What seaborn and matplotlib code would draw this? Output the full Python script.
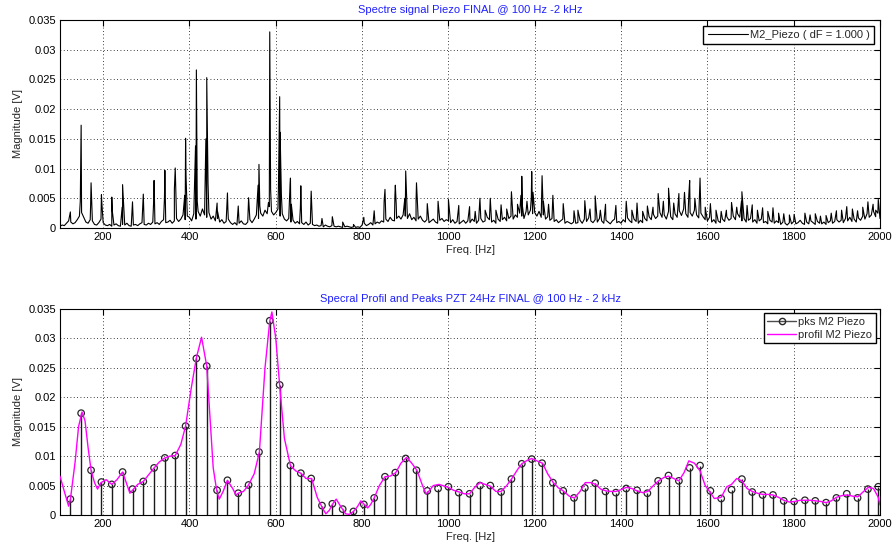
import numpy as np
import pandas as pd
import matplotlib
matplotlib.use("Agg")
import matplotlib.pyplot as plt
import seaborn as sns
from matplotlib.lines import Line2D
from matplotlib.ticker import FuncFormatter, MultipleLocator

# ---------------- data ----------------
# Harmonic peaks (pks M2 Piezo) : frequency [Hz], magnitude [V]
pk_freq = [124, 149, 172, 196, 220, 245, 268, 293, 318, 343, 367, 391, 416, 440,
           464, 488, 513, 537, 561, 586, 609, 634, 658, 682, 707, 731, 755, 780,
           804, 828, 853, 877, 901, 926, 951, 976, 1000, 1024, 1049, 1073, 1097,
           1122, 1146, 1170, 1193, 1217, 1242, 1266, 1291, 1316, 1340, 1364, 1388,
           1412, 1437, 1461, 1486, 1510, 1534, 1559, 1583, 1607, 1632, 1656, 1680,
           1704, 1728, 1752, 1777, 1801, 1826, 1850, 1875, 1899, 1923, 1948, 1972, 1996]
pk_mag = [0.0027, 0.0173, 0.0076, 0.0056, 0.0052, 0.0073, 0.0044, 0.0057, 0.0080,
          0.0097, 0.0101, 0.0151, 0.0266, 0.0253, 0.0042, 0.0059, 0.0037, 0.0051,
          0.0107, 0.0330, 0.0221, 0.0084, 0.0071, 0.0062, 0.0016, 0.0019, 0.0010,
          0.0006, 0.0018, 0.0029, 0.0065, 0.0072, 0.0096, 0.0076, 0.0041, 0.0045,
          0.0048, 0.0038, 0.0036, 0.0050, 0.0050, 0.0039, 0.0061, 0.0087, 0.0095,
          0.0088, 0.0055, 0.0041, 0.0029, 0.0046, 0.0054, 0.0040, 0.0038, 0.0045,
          0.0042, 0.0037, 0.0058, 0.0067, 0.0058, 0.0080, 0.0084, 0.0041, 0.0028,
          0.0043, 0.0061, 0.0039, 0.0034, 0.0034, 0.0024, 0.0023, 0.0025, 0.0024,
          0.0021, 0.0029, 0.0036, 0.0029, 0.0044, 0.0048]

# Spectral profile (profil M2 Piezo)
prof_freq = [100, 110, 120, 124, 135, 143, 151, 158, 165, 172, 180, 187, 195, 207,
             215, 220, 232, 245, 256, 262, 268, 280, 293, 305, 318, 330, 343, 355,
             367, 380, 391, 404, 416, 428, 440, 448, 455, 463, 469, 478, 488, 500,
             508, 513, 525, 536, 550, 562, 575, 586, 591, 600, 609, 620, 634, 646,
             658, 670, 683, 696, 708, 716, 724, 732, 740, 750, 762, 770, 780, 790,
             797, 805, 813, 820, 828, 840, 853, 865, 878, 890, 903, 915, 927, 940,
             948, 952, 965, 978, 1000, 1012, 1025, 1037, 1049, 1062, 1073, 1085,
             1097, 1110, 1122, 1135, 1147, 1160, 1170, 1183, 1193, 1205, 1218, 1230,
             1243, 1255, 1266, 1280, 1292, 1305, 1317, 1330, 1341, 1353, 1365, 1377,
             1388, 1400, 1412, 1425, 1437, 1450, 1462, 1475, 1487, 1500, 1510, 1522,
             1534, 1546, 1557, 1570, 1583, 1595, 1607, 1616, 1632, 1645, 1656, 1668,
             1680, 1692, 1704, 1716, 1728, 1740, 1752, 1765, 1777, 1790, 1802, 1815,
             1827, 1840, 1851, 1863, 1875, 1887, 1899, 1912, 1924, 1937, 1949, 1962,
             1973, 1985, 1996, 2000]
prof_mag = [0.0066, 0.0040, 0.0015, 0.0026, 0.0090, 0.0150, 0.0175, 0.0160, 0.0115,
            0.0076, 0.0055, 0.0044, 0.0055, 0.0060, 0.0055, 0.0052, 0.0060, 0.0073,
            0.0050, 0.0037, 0.0042, 0.0052, 0.0057, 0.0068, 0.0080, 0.0090, 0.0097,
            0.0100, 0.0101, 0.0120, 0.0151, 0.0215, 0.0267, 0.0302, 0.0253, 0.0160,
            0.0080, 0.0042, 0.0027, 0.0040, 0.0059, 0.0045, 0.0034, 0.0037, 0.0040,
            0.0050, 0.0070, 0.0107, 0.0250, 0.0329, 0.0345, 0.0300, 0.0220, 0.0130,
            0.0084, 0.0075, 0.0071, 0.0062, 0.0062, 0.0030, 0.0012, 0.0002, 0.0008,
            0.0019, 0.0027, 0.0015, 0.0002, 0.0001, 0.0006, 0.0015, 0.0024, 0.0018,
            0.0012, 0.0018, 0.0029, 0.0050, 0.0065, 0.0066, 0.0072, 0.0088, 0.0098,
            0.0088, 0.0076, 0.0050, 0.0036, 0.0038, 0.0050, 0.0052, 0.0047, 0.0042,
            0.0039, 0.0036, 0.0036, 0.0048, 0.0055, 0.0052, 0.0049, 0.0040, 0.0040,
            0.0050, 0.0062, 0.0077, 0.0087, 0.0093, 0.0096, 0.0092, 0.0088, 0.0070,
            0.0055, 0.0046, 0.0041, 0.0032, 0.0029, 0.0040, 0.0055, 0.0055, 0.0052,
            0.0044, 0.0041, 0.0040, 0.0040, 0.0043, 0.0047, 0.0045, 0.0041, 0.0038,
            0.0040, 0.0050, 0.0058, 0.0064, 0.0066, 0.0062, 0.0058, 0.0072, 0.0092,
            0.0088, 0.0075, 0.0050, 0.0038, 0.0028, 0.0030, 0.0048, 0.0052, 0.0062,
            0.0058, 0.0045, 0.0040, 0.0037, 0.0035, 0.0035, 0.0034, 0.0030, 0.0025,
            0.0022, 0.0023, 0.0025, 0.0025, 0.0025, 0.0024, 0.0023, 0.0021, 0.0024,
            0.0030, 0.0033, 0.0034, 0.0032, 0.0031, 0.0040, 0.0047, 0.0045, 0.0030,
            0.0017]

# Raw spectrum (M2_Piezo, dF = 1 Hz): noise floor read every 5 Hz from 100 Hz [mV]
floor_mv = [
    0.3, 0.5, 0.4, 0.8, 1.2, 1.0, 0.7, 0.9, 1.4, 2.0, 2.6, 1.8, 1.0, 0.8, 1.4, 1.2, 0.6, 0.5, 0.9, 1.5,
    0.9, 0.5, 0.4, 0.6, 0.3, 0.5, 0.7, 0.4, 0.3, 0.6, 0.5, 0.8, 0.4, 0.3, 0.5, 0.6, 0.4, 0.7, 0.9, 0.6,
    0.5, 0.8, 0.6, 1.0, 0.7, 0.9, 0.6, 1.1, 1.4, 0.9, 1.0, 1.3, 0.8, 1.2, 1.6, 1.1, 1.5, 2.2, 1.4, 2.0,
    1.8, 1.2, 2.4, 1.5, 2.8, 2.0, 3.2, 2.2, 1.8, 2.6, 1.5, 2.0, 1.2, 1.6, 1.0, 1.4, 0.8, 1.1, 1.5, 0.9,
    0.6, 0.9, 0.5, 0.8, 1.2, 0.7, 0.6, 1.0, 1.4, 0.9, 1.5, 2.2, 1.6, 2.5, 2.0, 3.0, 2.4, 3.6, 2.8, 2.2,
    2.6, 3.2, 2.0, 2.4, 1.5, 1.2, 1.6, 1.0, 1.3, 0.8, 1.1, 0.7, 0.9, 0.6, 1.0, 0.5, 0.8, 0.6, 0.4, 0.5,
    0.3, 0.4, 0.2, 0.5, 0.3, 0.2, 0.4, 0.3, 0.2, 0.3, 0.2, 0.1, 0.2, 0.3, 0.2, 0.1, 0.2, 0.1, 0.2, 0.1,
    0.5, 0.8, 0.4, 0.6, 0.9, 0.5, 0.7, 1.0, 0.8, 1.2, 1.0, 1.5, 1.1, 1.8, 1.3, 1.2, 1.6, 2.0, 1.5, 2.2,
    2.0, 1.6, 2.4, 1.4, 1.8, 1.2, 1.5, 2.0, 1.3, 1.0, 1.4, 0.9, 1.2, 1.5, 1.0, 0.8, 1.3, 1.6, 1.1, 1.4,
    1.2, 0.9, 1.4, 0.8, 1.1, 0.7, 1.0, 1.3, 0.8, 1.2, 0.9, 1.5, 1.1, 0.8, 1.3, 1.6, 1.0, 1.2, 1.8, 1.4,
    1.0, 1.3, 0.8, 1.5, 1.1, 1.4, 1.8, 1.2, 1.6, 2.0, 1.5, 2.2, 1.8, 2.5, 2.0, 1.6, 2.8, 2.2, 3.0, 2.4,
    2.6, 2.0, 2.8, 1.8, 2.2, 1.5, 1.9, 1.3, 1.6, 1.1, 1.4, 0.9, 1.2, 1.5, 0.8, 1.1, 0.9, 0.7, 1.0, 0.8,
    0.9, 1.3, 0.8, 1.5, 1.1, 1.7, 1.2, 0.9, 1.4, 1.0, 1.6, 1.2, 0.8, 1.3, 1.0, 0.7, 1.2, 1.5, 0.9, 1.1,
    0.8, 1.4, 1.0, 1.7, 1.2, 0.9, 1.5, 1.1, 0.8, 1.3, 0.9, 1.6, 1.2, 1.9, 1.4, 2.3, 1.6, 2.0, 2.6, 1.8,
    2.2, 1.5, 2.8, 1.9, 1.4, 2.4, 1.8, 2.9, 2.1, 3.2, 2.4, 1.8, 2.6, 2.0, 3.0, 2.2, 1.7, 2.5, 1.9, 1.4,
    1.2, 1.8, 1.0, 1.4, 0.8, 1.2, 0.9, 1.5, 1.1, 1.9, 1.3, 1.6, 2.0, 1.4, 2.4, 1.8, 1.2, 1.6, 1.0, 1.3,
    1.6, 1.0, 1.4, 0.8, 1.2, 1.5, 0.9, 1.1, 0.7, 1.3, 1.0, 0.8, 1.2, 0.9, 0.6, 1.0, 0.8, 0.5, 0.9, 0.7,
    1.1, 0.7, 0.9, 1.3, 0.8, 0.6, 1.0, 0.7, 1.2, 0.9, 0.6, 1.1, 0.8, 0.7, 1.0, 0.6, 0.9, 1.2, 0.8, 1.1,
    1.4, 1.0, 1.3, 0.9, 1.6, 1.2, 1.8, 1.1, 1.5, 1.0, 1.7, 1.3, 2.0, 1.5, 2.4, 1.8, 2.2, 2.8, 1.9, 2.5,
    1.6]
floor_freq = np.arange(100, 2001, 5)

# Secondary spikes of the raw spectrum (Hz, V)
sec_freq = [147, 171, 197, 221, 244, 294, 317, 342, 365, 389, 392, 414, 418, 438, 443,
            465, 489, 559, 563, 583, 588, 606, 610, 613, 633, 636, 657, 681, 851, 876,
            879, 899, 925, 1062, 1085, 1110, 1135, 1145, 1160, 1168, 1171, 1182, 1192,
            1196, 1216, 1220, 1232, 1300, 1328, 1352, 1425, 1450, 1474, 1498, 1522, 1547,
            1557, 1571, 1582, 1595, 1620, 1644, 1668, 1679, 1692, 1716, 1740, 1765, 1790,
            1838, 1862, 1887, 1911, 1936, 1960, 1984, 1990]
sec_mag = [0.0045, 0.0040, 0.0042, 0.0030, 0.0035, 0.0033, 0.0045, 0.0050, 0.0065,
           0.0055, 0.0088, 0.0138, 0.0045, 0.0150, 0.0075, 0.0028, 0.0032, 0.0072,
           0.0037, 0.0043, 0.0065, 0.0063, 0.0161, 0.0055, 0.0072, 0.0040, 0.0035,
           0.0032, 0.0045, 0.0055, 0.0040, 0.0050, 0.0045, 0.0028, 0.0030, 0.0030,
           0.0032, 0.0035, 0.0040, 0.0055, 0.0040, 0.0045, 0.0050, 0.0060, 0.0052,
           0.0045, 0.0040, 0.0030, 0.0032, 0.0030, 0.0030, 0.0028, 0.0035, 0.0045,
           0.0042, 0.0060, 0.0055, 0.0050, 0.0060, 0.0035, 0.0030, 0.0030, 0.0035,
           0.0045, 0.0038, 0.0030, 0.0028, 0.0025, 0.0022, 0.0022, 0.0020, 0.0025,
           0.0030, 0.0032, 0.0035, 0.0040, 0.0030]

x_ticks = [200, 400, 600, 800, 1000, 1200, 1400, 1600, 1800, 2000]
title_top = "Spectre signal Piezo FINAL @ 100 Hz -2 kHz"
title_bot = "Specral Profil and Peaks PZT 24Hz FINAL @ 100 Hz - 2 kHz"
legend_top = "M2_Piezo ( dF = 1.000 )"
legend_pks = "pks M2 Piezo"
legend_prof = "profil M2 Piezo"

# ---------------- build tables ----------------
spec = pd.concat([
    pd.DataFrame({"freq": floor_freq, "mag": np.array(floor_mv) * 1e-3}),
    pd.DataFrame({"freq": pk_freq, "mag": pk_mag}),
    pd.DataFrame({"freq": sec_freq, "mag": sec_mag}),
]).sort_values(["freq", "mag"]).reset_index(drop=True)
peaks = pd.DataFrame({"freq": pk_freq, "mag": pk_mag})
prof = pd.DataFrame({"freq": prof_freq, "mag": prof_mag})

# ---------------- style ----------------
sns.set_theme(style="white")
plt.rcParams["font.family"] = ["Liberation Sans", "DejaVu Sans"]
plt.rcParams["font.size"] = 8
plt.rcParams["xtick.direction"] = "in"
plt.rcParams["ytick.direction"] = "in"

fig = plt.figure(figsize=(8.92, 5.46), dpi=100)
ax1 = fig.add_axes([60 / 892, 1 - 228 / 546, 820 / 892, 208 / 546])
ax2 = fig.add_axes([60 / 892, 1 - 515 / 546, 820 / 892, 206 / 546])

# top: raw spectrum
sns.lineplot(data=spec, x="freq", y="mag", ax=ax1, color="black", lw=0.8,
             estimator=None, sort=False, legend=False)

# bottom: stems + markers + profile
ax2.vlines(peaks["freq"], 0, peaks["mag"], colors="0.1", lw=1.0, zorder=2)
sns.scatterplot(data=peaks, x="freq", y="mag", ax=ax2, marker="o", s=22,
                facecolor="none", edgecolor="0.15", linewidth=0.9, zorder=3,
                legend=False)
sns.lineplot(data=prof, x="freq", y="mag", ax=ax2, color="#FF00FF", lw=1.0,
             estimator=None, sort=False, legend=False, zorder=4)

fmt = FuncFormatter(lambda v, p: "%g" % round(v, 4))
for ax, title in ((ax1, title_top), (ax2, title_bot)):
    ax.set_xlim(100, 2000)
    ax.set_ylim(0, 0.035)
    ax.set_xticks(x_ticks)
    ax.yaxis.set_major_locator(MultipleLocator(0.005))
    ax.yaxis.set_major_formatter(fmt)
    ax.tick_params(axis="both", which="major", labelsize=8, length=4, width=0.8,
                   top=True, right=True, direction="in", colors="black", pad=3)
    ax.grid(True, color="black", linestyle=(0, (1, 3)), lw=0.6)
    for s in ax.spines.values():
        s.set_color("black")
        s.set_linewidth(0.8)
        s.set_visible(True)
    ax.set_xlabel("Freq. [Hz]", fontsize=8, labelpad=2)
    ax.set_ylabel("Magnitude [V]", fontsize=8, labelpad=4)
    ax.set_title(title, color="#2020FF", fontsize=8, pad=5)
    ax.set_facecolor("white")

h1 = [Line2D([0], [0], color="black", lw=0.8)]
ax1.legend(h1, [legend_top], loc="upper right", fontsize=8, frameon=True,
           fancybox=False, edgecolor="black", framealpha=1, handlelength=3.6,
           borderaxespad=0.5, borderpad=0.4, handletextpad=0.2)

h2 = [Line2D([0], [0], color="0.3", lw=1.0, marker="o", markersize=4.5,
             markerfacecolor="none", markeredgecolor="0.15", markevery=[1]),
      Line2D([0], [0], color="#FF00FF", lw=1.0)]
ax2.legend(h2, [legend_pks, legend_prof], loc="upper right", fontsize=8, frameon=True,
           fancybox=False, edgecolor="black", framealpha=1, handlelength=2.6,
           borderaxespad=0.4, borderpad=0.3, handletextpad=0.2, labelspacing=0.25)

fig.savefig("out.png", dpi=100, facecolor="white")
